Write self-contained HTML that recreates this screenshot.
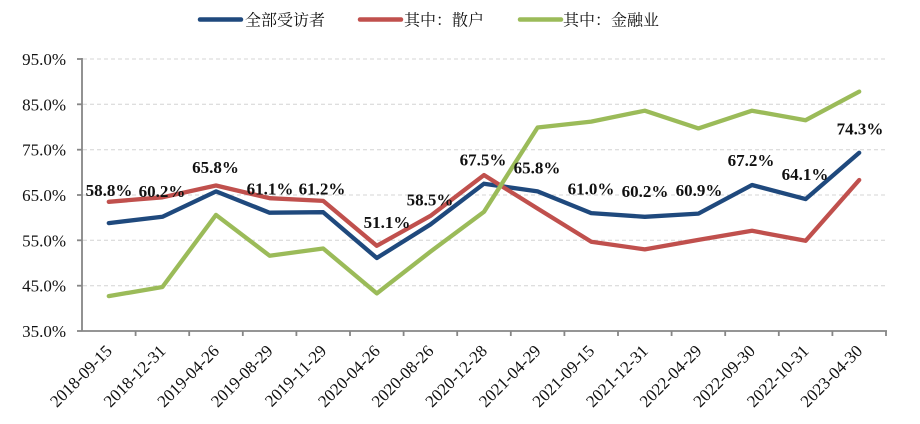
<!DOCTYPE html>
<html>
<head>
<meta charset="utf-8">
<style>
html,body{margin:0;padding:0;background:#fff;}
svg{display:block;}
.yl{font-family:"Liberation Serif",serif;font-size:17px;fill:#111;}
.xl{font-family:"Liberation Serif",serif;font-size:17px;fill:#111;}
.dl{font-family:"Liberation Serif",serif;font-size:17px;font-weight:bold;fill:#111;}
.lg{font-family:"Liberation Serif","Noto Serif CJK SC",serif;font-size:16px;fill:#111;}
</style>
</head>
<body>
<svg width="920" height="424" viewBox="0 0 920 424" xmlns="http://www.w3.org/2000/svg">
  <!-- legend -->
  <line x1="200" y1="19.5" x2="241" y2="19.5" stroke="#1F497D" stroke-width="4.5" stroke-linecap="round"/>
  <text class="lg" x="245" y="25.5">全部受访者</text>
  <line x1="360" y1="19.5" x2="401" y2="19.5" stroke="#C0504D" stroke-width="4.5" stroke-linecap="round"/>
  <text class="lg" x="404" y="25.5">其中：散户</text>
  <line x1="520" y1="19.5" x2="561" y2="19.5" stroke="#9BBB59" stroke-width="4.5" stroke-linecap="round"/>
  <text class="lg" x="563" y="25.5">其中：金融业</text>

  <!-- gridlines -->
  <g stroke="#d4d4d4" stroke-width="1" stroke-dasharray="4 3">
    <line x1="83" y1="59" x2="887" y2="59"/>
    <line x1="83" y1="104.3" x2="887" y2="104.3"/>
    <line x1="83" y1="149.7" x2="887" y2="149.7"/>
    <line x1="83" y1="195" x2="887" y2="195"/>
    <line x1="83" y1="240.3" x2="887" y2="240.3"/>
    <line x1="83" y1="285.7" x2="887" y2="285.7"/>
  </g>

  <!-- axes -->
  <g stroke="#868686" stroke-width="1.8" fill="none">
    <line x1="82" y1="58" x2="82" y2="331"/>
    <line x1="82" y1="331" x2="887" y2="331"/>
    <line x1="77" y1="59" x2="82" y2="59"/>
    <line x1="77" y1="104.3" x2="82" y2="104.3"/>
    <line x1="77" y1="149.7" x2="82" y2="149.7"/>
    <line x1="77" y1="195" x2="82" y2="195"/>
    <line x1="77" y1="240.3" x2="82" y2="240.3"/>
    <line x1="77" y1="285.7" x2="82" y2="285.7"/>
    <line x1="77" y1="331" x2="82" y2="331"/>
    <line x1="135.6" y1="331" x2="135.6" y2="336"/>
    <line x1="189.2" y1="331" x2="189.2" y2="336"/>
    <line x1="242.8" y1="331" x2="242.8" y2="336"/>
    <line x1="296.4" y1="331" x2="296.4" y2="336"/>
    <line x1="350" y1="331" x2="350" y2="336"/>
    <line x1="403.6" y1="331" x2="403.6" y2="336"/>
    <line x1="457.2" y1="331" x2="457.2" y2="336"/>
    <line x1="510.8" y1="331" x2="510.8" y2="336"/>
    <line x1="564.4" y1="331" x2="564.4" y2="336"/>
    <line x1="618" y1="331" x2="618" y2="336"/>
    <line x1="671.6" y1="331" x2="671.6" y2="336"/>
    <line x1="725.2" y1="331" x2="725.2" y2="336"/>
    <line x1="778.8" y1="331" x2="778.8" y2="336"/>
    <line x1="832.4" y1="331" x2="832.4" y2="336"/>
    <line x1="886" y1="331" x2="886" y2="336"/>
  </g>

  <!-- y labels -->
  <g class="yl" text-anchor="end">
    <text x="66" y="65">95.0%</text>
    <text x="66" y="110.3">85.0%</text>
    <text x="66" y="155.7">75.0%</text>
    <text x="66" y="201">65.0%</text>
    <text x="66" y="246.3">55.0%</text>
    <text x="66" y="291.7">45.0%</text>
    <text x="66" y="337">35.0%</text>
  </g>

  <!-- x labels -->
  <g class="xl" text-anchor="end">
    <text transform="translate(113,352) rotate(-45)">2018-09-15</text>
    <text transform="translate(166.6,352) rotate(-45)">2018-12-31</text>
    <text transform="translate(220.2,352) rotate(-45)">2019-04-26</text>
    <text transform="translate(273.8,352) rotate(-45)">2019-08-29</text>
    <text transform="translate(327.4,352) rotate(-45)">2019-11-29</text>
    <text transform="translate(381,352) rotate(-45)">2020-04-26</text>
    <text transform="translate(434.6,352) rotate(-45)">2020-08-26</text>
    <text transform="translate(488.2,352) rotate(-45)">2020-12-28</text>
    <text transform="translate(541.8,352) rotate(-45)">2021-04-29</text>
    <text transform="translate(595.4,352) rotate(-45)">2021-09-15</text>
    <text transform="translate(649,352) rotate(-45)">2021-12-31</text>
    <text transform="translate(702.6,352) rotate(-45)">2022-04-29</text>
    <text transform="translate(756.2,352) rotate(-45)">2022-09-30</text>
    <text transform="translate(809.8,352) rotate(-45)">2022-10-31</text>
    <text transform="translate(863.4,352) rotate(-45)">2023-04-30</text>
  </g>

  <!-- series -->
  <g fill="none" stroke-width="4.3" stroke-linejoin="round" stroke-linecap="round">
    <polyline stroke="#1F497D" points="108.8,223.1 162.4,216.8 216,191.4 269.6,212.7 323.2,212.2 376.8,258 430.4,224.5 484,183.7 537.6,191.4 591.2,213.1 644.8,216.8 698.4,213.6 752,185 805.6,199.1 859.2,152.8"/>
    <polyline stroke="#C0504D" points="108.8,201.8 162.4,197.3 216,185.5 269.6,198.2 323.2,200.9 376.8,245.8 430.4,215.9 484,175.1 537.6,208.6 591.2,241.7 644.8,249.4 698.4,239.9 752,230.8 805.6,240.8 859.2,180"/>
    <polyline stroke="#9BBB59" points="108.8,296.1 162.4,287 216,214.9 269.6,255.7 323.2,248.5 376.8,293.4 430.4,251.7 484,211.8 537.6,127.5 591.2,121.6 644.8,110.7 698.4,128.4 752,110.7 805.6,120.2 859.2,91.6"/>
  </g>

  <!-- data labels -->
  <g class="dl" text-anchor="middle">
    <text x="109" y="196">58.8%</text>
    <text x="162" y="197">60.2%</text>
    <text x="215.5" y="173">65.8%</text>
    <text x="270" y="194.5">61.1%</text>
    <text x="322" y="194.5">61.2%</text>
    <text x="387" y="228">51.1%</text>
    <text x="430" y="205.5">58.5%</text>
    <text x="483" y="165.5">67.5%</text>
    <text x="537" y="173.5">65.8%</text>
    <text x="591" y="194.5">61.0%</text>
    <text x="645" y="197">60.2%</text>
    <text x="699" y="196">60.9%</text>
    <text x="751" y="166">67.2%</text>
    <text x="805" y="180">64.1%</text>
    <text x="860" y="134.5">74.3%</text>
  </g>
</svg>
</body>
</html>
